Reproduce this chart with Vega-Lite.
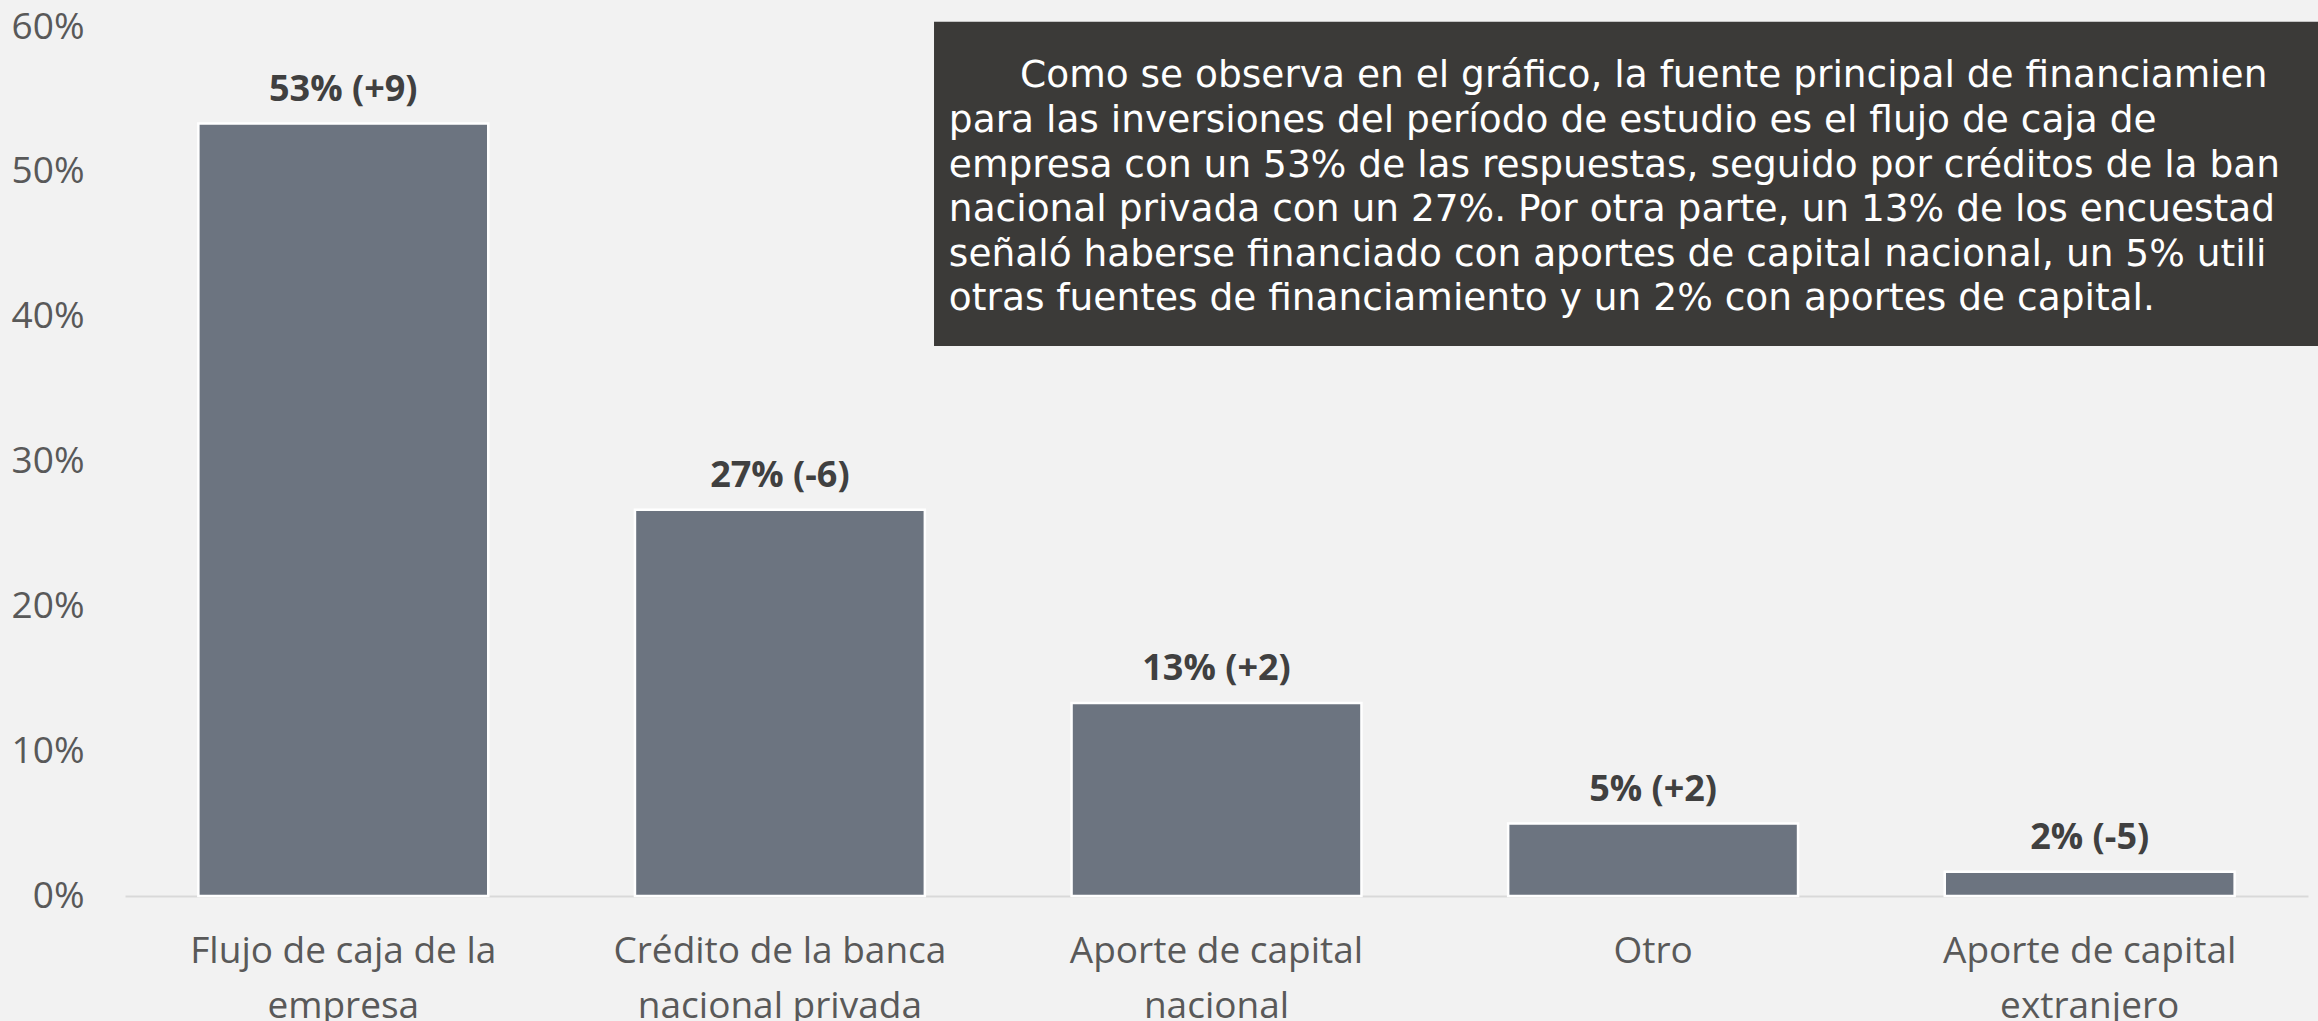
{
  "$schema": "https://vega.github.io/schema/vega-lite/v6.json",
  "width": 2183,
  "height": 869,
  "autosize": "none",
  "padding": {"left": 125, "top": 27, "right": 10, "bottom": 125},
  "background": "#F2F2F2",
  "config": {"view": {"stroke": null}, "font": "Open Sans"},
  "datasets": {
    "bars": [
      {"fuente": "Flujo de caja de la empresa", "pct": 0.5333, "label": "53% (+9)"},
      {"fuente": "Crédito de la banca nacional privada", "pct": 0.2667, "label": "27% (-6)"},
      {"fuente": "Aporte de capital nacional", "pct": 0.1333, "label": "13% (+2)"},
      {"fuente": "Otro", "pct": 0.05, "label": "5% (+2)"},
      {"fuente": "Aporte de capital extranjero", "pct": 0.0167, "label": "2% (-5)"}
    ],
    "box": [{"x1": 1.853, "x2": 5.2, "y1": 0.3798, "y2": 0.6036}],
    "lines": [
      {"texto": "Como se observa en el gráfico,  la fuente principal de financiamien", "x": 2.05, "y": 0.5586},
      {"texto": "para las inversiones del período de estudio es el flujo de caja de", "x": 1.887, "y": 0.5275},
      {"texto": "empresa con un 53%  de las respuestas, seguido por créditos de la ban", "x": 1.887, "y": 0.4964},
      {"texto": "nacional privada con un 27%. Por otra parte, un 13% de los encuestad", "x": 1.887, "y": 0.466},
      {"texto": "señaló haberse financiado con aportes de capital nacional, un 5% utili", "x": 1.887, "y": 0.435},
      {"texto": "otras fuentes de financiamiento y un 2% con aportes de capital.", "x": 1.887, "y": 0.4046}
    ]
  },
  "resolve": {"scale": {"x": "independent"}},
  "layer": [
    {
      "data": {"name": "box"},
      "mark": {"type": "rect", "color": "#3B3A38", "clip": false},
      "encoding": {
        "x": {"field": "x1", "type": "quantitative", "scale": {"domain": [0, 5], "nice": false, "zero": false}, "axis": null},
        "x2": {"field": "x2"},
        "y": {"field": "y1", "type": "quantitative", "scale": {"domain": [0, 0.6], "nice": false}},
        "y2": {"field": "y2"}
      }
    },
    {
      "data": {"name": "lines"},
      "mark": {"type": "text", "align": "left", "baseline": "alphabetic", "font": "DejaVu Sans", "fontSize": 37.5, "color": "#FFFFFF", "clip": false},
      "encoding": {
        "x": {"field": "x", "type": "quantitative", "scale": {"domain": [0, 5], "nice": false, "zero": false}, "axis": null},
        "y": {"field": "y", "type": "quantitative", "scale": {"domain": [0, 0.6], "nice": false}},
        "text": {"field": "texto"}
      }
    },
    {
      "data": {"name": "bars"},
      "encoding": {
        "x": {
          "field": "fuente", "type": "nominal", "sort": null,
          "scale": {"paddingInner": 0.336, "paddingOuter": 0.168},
          "axis": {
            "title": null, "ticks": false, "tickSize": 0, "domainColor": "#D9D9D9", "domainWidth": 2,
            "labelFontSize": 37, "labelColor": "#595959", "labelPadding": 37, "labelLineHeight": 55, "labelAngle": 0, "labelLimit": 0,
            "labelExpr": "datum.value == 'Flujo de caja de la empresa' ? ['Flujo de caja de la', 'empresa'] : datum.value == 'Crédito de la banca nacional privada' ? ['Crédito de la banca', 'nacional privada'] : datum.value == 'Aporte de capital nacional' ? ['Aporte de capital', 'nacional'] : datum.value == 'Aporte de capital extranjero' ? ['Aporte de capital', 'extranjero'] : datum.value"
          }
        },
        "y": {
          "field": "pct", "type": "quantitative",
          "scale": {"domain": [0, 0.6], "nice": false},
          "axis": {
            "title": null, "values": [0, 0.1, 0.2, 0.3, 0.4, 0.5, 0.6], "format": ".0%",
            "grid": false, "domain": false, "ticks": false, "tickSize": 0,
            "labelFontSize": 37, "labelColor": "#595959", "labelPadding": 41
          }
        }
      },
      "layer": [
        {"mark": {"type": "bar", "color": "#6C7480", "stroke": "#FFFFFF", "strokeWidth": 2.5}},
        {
          "mark": {"type": "text", "baseline": "alphabetic", "dy": -23, "fontSize": 36, "fontWeight": "bold", "color": "#404040"},
          "encoding": {"text": {"field": "label"}}
        }
      ]
    }
  ]
}
